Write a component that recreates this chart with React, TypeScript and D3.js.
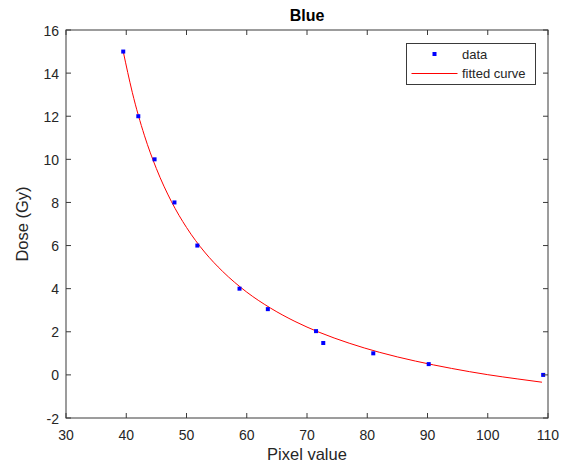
import React, { useEffect, useRef } from "react";
import * as d3 from "d3";

// measured points (pixel value vs dose)
const dataX = [39.5, 42, 44.7, 48, 51.8, 58.8, 63.5, 71.5, 72.7, 81, 90.2, 109.2];
const dataY = [15, 12, 10, 8, 6, 4, 3.05, 2.03, 1.48, 1.0, 0.5, 0];

// fitted curve
const fitX = [39.5, 41, 43, 45, 47.5, 50, 53, 56, 60, 64, 68, 72, 77, 82, 88, 94, 100, 105, 109];
const fitY = [15.0, 13.11, 11.12, 9.57, 8.04, 6.84, 5.7, 4.8, 3.84, 3.09, 2.48, 1.98, 1.47, 1.05, 0.64, 0.3, 0.01, -0.19, -0.34];

const xTicks = [30, 40, 50, 60, 70, 80, 90, 100, 110];
const yTicks = [-2, 0, 2, 4, 6, 8, 10, 12, 14, 16];

const W = 564;
const H = 467;
const margin = { top: 30, right: 16, bottom: 49, left: 66 };
const FONT = "'Liberation Sans', Arial, Helvetica, sans-serif";
const AXIS = "#3a3a3a";
const TEXT = "#262626";

const App = () => {
  const svgRef = useRef(null);

  useEffect(() => {
    document.body.style.margin = "0";
    const svg = d3.select(svgRef.current);
    svg.selectAll("*").remove();

    const iw = W - margin.left - margin.right;
    const ih = H - margin.top - margin.bottom;

    const x = d3.scaleLinear().domain([30, 110]).range([margin.left, margin.left + iw]);
    const y = d3.scaleLinear().domain([-2, 16]).range([margin.top + ih, margin.top]);

    svg.append("rect").attr("width", W).attr("height", H).attr("fill", "#fff");

    // fitted curve
    const line = d3
      .line<number>()
      .x((d, i) => x(fitX[i]))
      .y((d) => y(d))
      .curve(d3.curveMonotoneX);

    svg.append("path")
      .datum(fitY)
      .attr("d", line)
      .attr("fill", "none")
      .attr("stroke", "#ff0000")
      .attr("stroke-width", 1);

    // data markers
    svg.selectAll(".pt")
      .data(dataY)
      .enter()
      .append("rect")
      .attr("class", "pt")
      .attr("x", (d, i) => x(dataX[i]) - 2)
      .attr("y", (d) => y(d) - 2)
      .attr("width", 4)
      .attr("height", 4)
      .attr("fill", "#0000ff");

    // axes box
    const g = svg.append("g");
    g.append("rect")
      .attr("x", margin.left)
      .attr("y", margin.top)
      .attr("width", iw)
      .attr("height", ih)
      .attr("fill", "none")
      .attr("stroke", AXIS)
      .attr("stroke-width", 1);

    const tl = 5;
    xTicks.forEach((t) => {
      const px = x(t);
      g.append("line").attr("x1", px).attr("x2", px).attr("y1", margin.top + ih).attr("y2", margin.top + ih - tl).attr("stroke", AXIS);
      g.append("line").attr("x1", px).attr("x2", px).attr("y1", margin.top).attr("y2", margin.top + tl).attr("stroke", AXIS);
      g.append("text")
        .attr("x", px)
        .attr("y", margin.top + ih + 22)
        .attr("text-anchor", "middle")
        .attr("font-family", FONT)
        .attr("font-size", 14)
        .attr("fill", TEXT)
        .text(t);
    });

    yTicks.forEach((t) => {
      const py = y(t);
      g.append("line").attr("x1", margin.left).attr("x2", margin.left + tl).attr("y1", py).attr("y2", py).attr("stroke", AXIS);
      g.append("line").attr("x1", margin.left + iw).attr("x2", margin.left + iw - tl).attr("y1", py).attr("y2", py).attr("stroke", AXIS);
      g.append("text")
        .attr("x", margin.left - 7)
        .attr("y", py + 5.5)
        .attr("text-anchor", "end")
        .attr("font-family", FONT)
        .attr("font-size", 14)
        .attr("fill", TEXT)
        .text(t);
    });

    // labels
    svg.append("text")
      .attr("x", margin.left + iw / 2)
      .attr("y", 21)
      .attr("text-anchor", "middle")
      .attr("font-family", FONT)
      .attr("font-size", 16)
      .attr("font-weight", "bold")
      .attr("fill", "#000")
      .text("Blue");

    svg.append("text")
      .attr("x", margin.left + iw / 2)
      .attr("y", 460)
      .attr("text-anchor", "middle")
      .attr("font-family", FONT)
      .attr("font-size", 16.5)
      .attr("fill", TEXT)
      .text("Pixel value");

    svg.append("text")
      .attr("transform", `translate(27.5, ${margin.top + ih / 2}) rotate(-90)`)
      .attr("text-anchor", "middle")
      .attr("font-family", FONT)
      .attr("font-size", 16.5)
      .attr("fill", TEXT)
      .text("Dose (Gy)");

    // legend
    const lg = svg.append("g");
    lg.append("rect")
      .attr("x", 406.5)
      .attr("y", 43.5)
      .attr("width", 129)
      .attr("height", 41)
      .attr("fill", "#fff")
      .attr("stroke", AXIS);
    lg.append("rect").attr("x", 432.5).attr("y", 52).attr("width", 4).attr("height", 4).attr("fill", "#0000ff");
    lg.append("line").attr("x1", 411.5).attr("x2", 457.5).attr("y1", 73.5).attr("y2", 73.5).attr("stroke", "#ff0000");
    lg.append("text").attr("x", 462).attr("y", 59).attr("font-family", FONT).attr("font-size", 13).attr("fill", TEXT).text("data");
    lg.append("text").attr("x", 462).attr("y", 78).attr("font-family", FONT).attr("font-size", 13).attr("fill", TEXT).text("fitted curve");
  }, []);

  return (
    <div style={{ width: W, height: H }}>
      <svg ref={svgRef} width={W} height={H}></svg>
    </div>
  );
};

export default App;
